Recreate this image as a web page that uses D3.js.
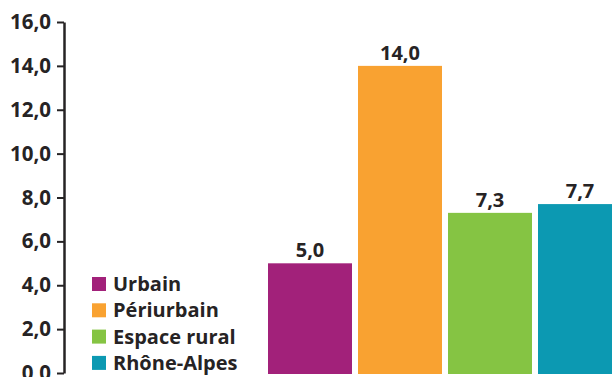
<!DOCTYPE html>
<html>
<head>
<meta charset="utf-8">
<script src="https://cdn.jsdelivr.net/npm/d3@7"></script>
<style>
  html, body { margin: 0; padding: 0; background: #ffffff; }
  svg { display: block; }
  text { font-family: "Open Sans", "Noto Sans", sans-serif; font-weight: 700; fill: #262324; }
</style>
</head>
<body>
<svg id="chart" width="612" height="377"></svg>
<script>
// Categories and values
const categories = ["Urbain", "Périurbain", "Espace rural", "Rhône-Alpes"];
const values = [5.0, 14.0, 7.3, 7.7];
const colors = ["#A2217A", "#F9A231", "#85C443", "#0C99B2"];
const yTicks = [0, 2, 4, 6, 8, 10, 12, 14, 16];

const svg = d3.select("#chart");
const fr = d3.formatLocale({ decimal: ",", thousands: " ", grouping: [3], currency: ["", " €"] });
const fmt = fr.format(".1f");

const y = d3.scaleLinear().domain([0, 16]).range([373, 22]);
const x = d3.scaleBand().domain(categories).range([268, 622]).paddingInner(6 / 90).paddingOuter(0);

// Bars
svg.append("g").selectAll("rect")
  .data(values)
  .join("rect")
  .attr("x", (d, i) => x(categories[i]))
  .attr("y", d => y(d))
  .attr("width", x.bandwidth())
  .attr("height", d => y(0) - y(d) + 1)
  .attr("fill", (d, i) => colors[i]);

// Value labels
svg.append("g").selectAll("text")
  .data(values)
  .join("text")
  .attr("x", (d, i) => x(categories[i]) + x.bandwidth() / 2)
  .attr("y", d => y(d) - 6)
  .attr("text-anchor", "middle")
  .style("font-size", "20px")
  .text(d => fmt(d));

// Y axis
const axis = svg.append("g")
  .attr("transform", "translate(64,0)")
  .call(d3.axisLeft(y).tickValues(yTicks).tickFormat(fmt).tickSize(7).tickSizeOuter(0).tickPadding(6));
axis.select(".domain").attr("stroke", "#262324").attr("stroke-width", 2.5);
axis.selectAll(".tick line").attr("stroke", "#262324").attr("stroke-width", 2);
axis.selectAll(".tick text")
  .style("font-size", "20.5px")
  .style("font-family", "'Open Sans', 'Noto Sans', sans-serif")
  .style("font-weight", "700")
  .attr("fill", "#262324");

// Legend
const legend = svg.append("g").attr("transform", "translate(92,284)");
const rows = legend.selectAll("g")
  .data(categories)
  .join("g")
  .attr("transform", (d, i) => `translate(0,${i * 26.3})`);
rows.append("rect")
  .attr("x", 0).attr("y", -7).attr("width", 14).attr("height", 14)
  .attr("fill", (d, i) => colors[i]);
rows.append("text")
  .attr("x", 21).attr("y", 0)
  .attr("dy", "0.35em")
  .style("font-size", "20px")
  .text(d => d);
</script>
</body>
</html>
